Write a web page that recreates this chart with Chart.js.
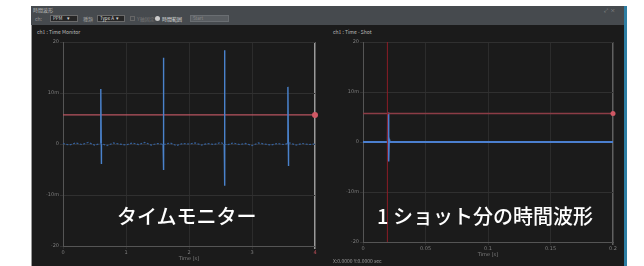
<!DOCTYPE html>
<html>
<head>
<meta charset="utf-8">
<script src="https://cdn.jsdelivr.net/npm/chart.js@4"></script>
<style>
  body { margin: 0; width: 644px; height: 266px; background: #fff; position: relative; overflow: hidden;
         font-family: "Noto Sans CJK JP", "Noto Sans", sans-serif; }
  .abs { position: absolute; }
  #win { left: 31px; top: 6px; width: 595px; height: 260px; background: #1b1b1b; border-left: 1px solid #9a9a9a; box-sizing: border-box; }
  #bar { left: 31px; top: 6px; width: 593px; height: 19px; background: #464a4e; }
  #edge { left: 624px; top: 6px; width: 3px; height: 260px; background: #2d7ea3; }
  .tiny { font-size: 5px; line-height: 6px; color: #b8b8b8; white-space: nowrap; }
  .drop { height: 7px; background: #262626; border: 1px solid #6a6a6a; box-sizing: border-box; font-size: 4.5px; line-height: 5px; color: #ddd; padding-left: 2px; }
  .cap { color: #fff; font-size: 20px; line-height: 20px; font-weight: 500; white-space: nowrap; }
</style>
</head>
<body>
<div id="win" class="abs"></div>
<div id="bar" class="abs"></div>
<div id="edge" class="abs"></div>

<div class="abs tiny" style="left:33px;top:7px;">時間波形</div>
<div class="abs tiny" style="left:35px;top:16px;color:#999;">ch:</div>
<div class="abs drop" style="left:50px;top:15px;width:28px;">PPM &nbsp;&nbsp;&nbsp;&nbsp;▾</div>
<div class="abs tiny" style="left:83px;top:16px;color:#999;">種類</div>
<div class="abs drop" style="left:97px;top:15px;width:28px;">Type A &nbsp;▾</div>
<div class="abs" style="left:130px;top:16px;width:5px;height:5px;border:1px solid #666;box-sizing:border-box;"></div>
<div class="abs tiny" style="left:137px;top:16px;color:#777;">Y軸固定</div>
<div class="abs" style="left:155px;top:16px;width:5px;height:5px;border-radius:50%;background:#ccc;"></div>
<div class="abs tiny" style="left:162px;top:16px;color:#ddd;">時間範囲</div>
<div class="abs drop" style="left:190px;top:15px;width:39px;background:#595d61;border-color:#6a6e72;color:#888;">Start</div>
<div class="abs tiny" style="left:604px;top:7px;color:#999;">⤢ &nbsp;×</div>

<div class="abs tiny" style="left:37px;top:29px;color:#bbb;">ch1 : Time Monitor</div>
<div class="abs tiny" style="left:333px;top:29px;color:#bbb;">ch1 : Time - Shot</div>

<div class="abs" style="left:31px;top:38px;width:294px;height:224px;"><canvas id="monitor"></canvas></div>
<div class="abs" style="left:325px;top:38px;width:299px;height:220px;"><canvas id="shot"></canvas></div>

<div class="abs tiny" style="left:333px;top:258px;color:#999;">X:0.0000 Y:0.0000 sec</div>

<div class="abs cap" style="left:117px;top:206px;">タイムモニター</div>
<div class="abs cap" style="left:377px;top:206px;">1 ショット分の時間波形</div>

<script>
// y ticks shared by both charts
const yTickValues = [-20, -10, 0, 10, 20];
const yTickLabels = ['-20', '-10m', '0', '10m', '20'];

// left: time monitor (seconds)
const monitorTicks = ['0', '1', '2', '3', '4'];
const baseTimes = [0, 0.1, 0.2, 0.3, 0.4, 0.5, 0.6, 0.7, 0.8, 0.9, 1.0, 1.1, 1.2, 1.3, 1.4, 1.5, 1.6, 1.7, 1.8, 1.9, 2.0,
                   2.1, 2.2, 2.3, 2.4, 2.5, 2.6, 2.7, 2.8, 2.9, 3.0, 3.1, 3.2, 3.3, 3.4, 3.5, 3.6, 3.7, 3.8, 3.9, 4.0];
const baseNoise = [0.1, -0.2, 0.2, -0.1, 0.3, -0.2, 0.1, -0.3, 0.2, 0.0, -0.2, 0.2, -0.1, 0.3, -0.2, 0.1, -0.1, 0.2, -0.3, 0.1, 0.0,
                   0.2, -0.2, 0.1, -0.1, 0.3, -0.2, 0.2, -0.1, 0.1, -0.3, 0.2, 0.0, -0.2, 0.1, -0.1, 0.2, -0.2, 0.1, -0.1, 0.0];
const spikeTimes = [0.6, 1.59, 2.56, 3.57];
const spikeTops = [10.8, 16.9, 18.4, 11.2];
const spikeBottoms = [-3.9, -5.1, -8.2, -4.3];
const monitorThreshold = 5.7;

// right: one shot waveform
const shotTicks = ['0', '0.05', '0.1', '0.15', '0.2'];
const shotX = [0, 0.0198, 0.0200, 0.0202, 0.0204, 0.0206, 0.0208, 0.0212, 0.2];
const shotY = [0, 0, 5.9, 0.4, 1.6, -3.9, 0.5, 0, 0];
const shotTrigger = 0.0195;
const shotThreshold = 5.7;

const tickFont = { size: 5, family: 'DejaVu Sans' };

function axes(xMax, xLabels, yWidth, lastGrid, lastTickColor) {
  return {
    x: {
      type: 'linear', min: 0, max: xMax,
      afterBuildTicks: s => { s.ticks = xLabels.map((_, i) => ({ value: xMax * i / 4 })); },
      ticks: {
        font: tickFont, padding: 1, maxRotation: 0,
        color: c => (c.index === 4 ? lastTickColor : '#7e7e7e'),
        callback: (v, i) => xLabels[i]
      },
      grid: {
        color: c => (c.index === 4 ? lastGrid : '#2c2c2c'),
        lineWidth: c => (c.index === 4 ? 1.5 : 1),
        tickLength: 3
      },
      border: { color: '#555' },
      title: { display: true, text: 'Time [s]', font: tickFont, color: '#7e7e7e', padding: 0 },
      afterFit: s => { s.height = 16; }
    },
    y: {
      min: -20, max: 20,
      afterBuildTicks: s => { s.ticks = yTickValues.map(v => ({ value: v })); },
      ticks: { font: tickFont, color: '#7e7e7e', padding: 1, callback: (v, i) => yTickLabels[i] },
      grid: { color: '#303030', tickLength: 3 },
      border: { color: '#555' },
      afterFit: s => { s.width = yWidth; }
    }
  };
}

const baseOpts = {
  responsive: true, maintainAspectRatio: false, animation: false,
  plugins: { legend: { display: false }, tooltip: { enabled: false } },
  elements: { point: { radius: 0 } }
};

// monitor chart
const monitorSets = [
  {
    data: baseTimes.map((t, i) => ({ x: t, y: baseNoise[i] })),
    borderColor: '#35609c', borderWidth: 1.2, borderDash: [2, 1.5]
  }
];
spikeTimes.forEach((t, i) => {
  monitorSets.push({
    data: [{ x: t, y: 0 }, { x: t, y: spikeTops[i] }, { x: t + 0.01, y: spikeBottoms[i] }, { x: t + 0.01, y: 0 }],
    borderColor: '#4a82cc', borderWidth: 1.4
  });
});
monitorSets.push({
  data: [{ x: 0, y: monitorThreshold }, { x: 4, y: monitorThreshold }],
  borderColor: '#b85560', borderWidth: 1.3,
  pointRadius: [0, 3], pointBackgroundColor: '#d05864', pointBorderWidth: 0
});

new Chart(document.getElementById('monitor'), {
  type: 'line',
  data: { datasets: monitorSets },
  options: Object.assign({}, baseOpts, {
    clip: false,
    layout: { padding: { top: 4, right: 10, left: 0, bottom: 0 } },
    scales: axes(4, monitorTicks, 32, '#9a9a9a', '#c0505a')
  })
});

// shot chart
new Chart(document.getElementById('shot'), {
  type: 'line',
  data: {
    datasets: [
      {
        data: [{ x: shotTrigger, y: -20 }, { x: shotTrigger, y: 20 }],
        borderColor: '#8a1d26', borderWidth: 1
      },
      {
        data: [{ x: 0, y: shotThreshold }, { x: 0.2, y: shotThreshold }],
        borderColor: '#8c3c46', borderWidth: 1.5,
        pointRadius: [0, 2.5], pointBackgroundColor: '#d05864', pointBorderWidth: 0
      },
      {
        data: shotX.map((x, i) => ({ x: x, y: shotY[i] })),
        borderColor: '#4b7fcf', borderWidth: 1.8
      }
    ]
  },
  options: Object.assign({}, baseOpts, {
    clip: false,
    layout: { padding: { top: 4, right: 11, left: 0, bottom: 0 } },
    scales: axes(0.2, shotTicks, 38, '#606060', '#7e7e7e')
  })
});
</script>
</body>
</html>
